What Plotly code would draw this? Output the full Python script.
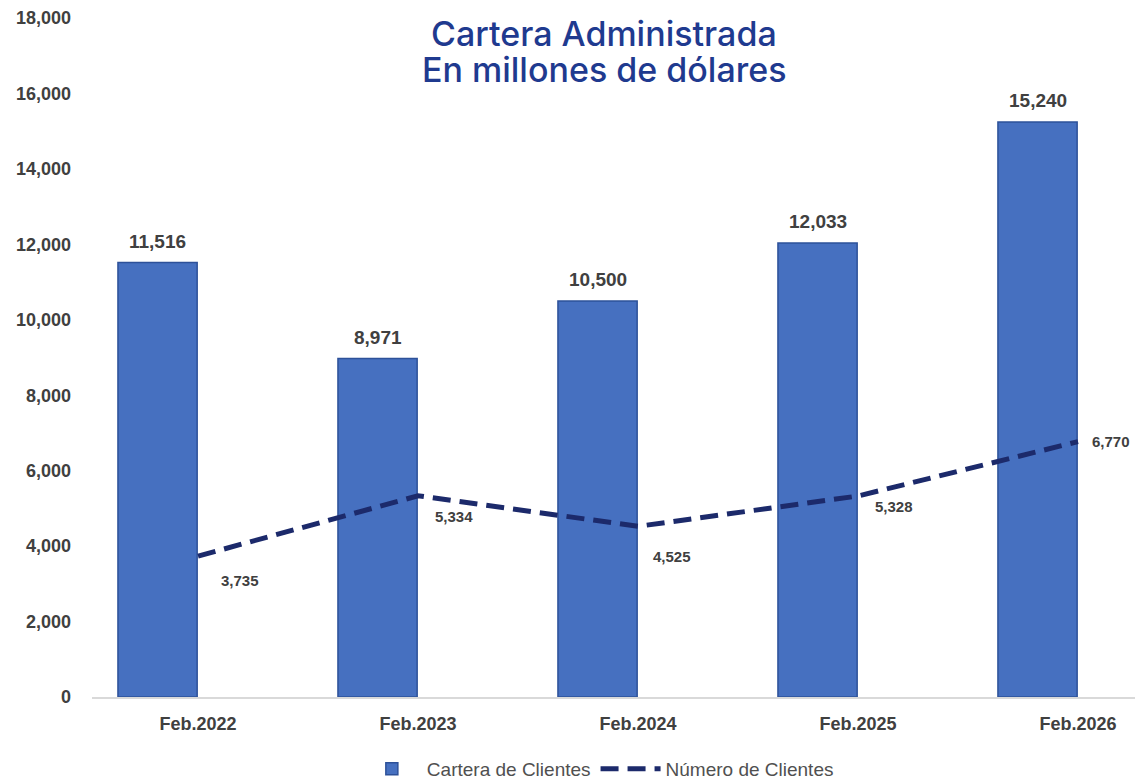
import plotly.graph_objects as go

# data
periods = ["Feb.2022", "Feb.2023", "Feb.2024", "Feb.2025", "Feb.2026"]
cartera = [11516, 8971, 10500, 12033, 15240]
clientes = [3735, 5334, 4525, 5328, 6770]
yticks = list(range(0, 18001, 2000))
title_lines = ["Cartera Administrada", "En millones de dólares"]

label_col = "#404040"
navy = "#1c2a6b"
bar_off = -0.364
bar_w = 0.36
plot_h = 780 - 18 - 83

fig = go.Figure()

fig.add_trace(go.Bar(
    x=periods, y=cartera, name="Cartera de Clientes",
    offset=bar_off, width=bar_w,
    marker=dict(color="#4670C0", line=dict(color="#2D5199", width=1.5)),
    hoverinfo="skip",
))

fig.add_trace(go.Scatter(
    x=periods, y=clientes, name="Número de Clientes",
    mode="lines", line=dict(color=navy, width=5, dash="18px,9px"),
    hoverinfo="skip",
))

annotations = []
# title, one annotation per line
for i, t in enumerate(title_lines):
    annotations.append(dict(
        xref="paper", yref="paper", x=0.491, y=(697 - 33 - 37 * i) / plot_h,
        text=t, showarrow=False, xanchor="center", yanchor="middle",
        font=dict(family="Inter", size=34, color="#1f3a8f", weight=500),
    ))

# bar value labels (above each bar, centred on the shifted bar)
for p, v in zip(periods, cartera):
    annotations.append(dict(
        x=p, y=v, text=f"{v:,}", showarrow=False,
        xshift=(bar_off + bar_w / 2) * 220, yshift=9, yanchor="bottom",
        font=dict(family="Liberation Sans", size=19, color=label_col, weight="bold"),
    ))

# line value labels (below-right of each point)
line_shift = [(42, -24), (36, -21), (34, -30), (36, -10), (33, 0)]
for p, v, (dx, dy) in zip(periods, clientes, line_shift):
    annotations.append(dict(
        x=p, y=v, text=f"{v:,}", showarrow=False,
        xshift=dx, yshift=dy,
        font=dict(family="Liberation Sans", size=15, color=label_col, weight="bold"),
    ))

fig.update_layout(
    width=1142, height=780,
    paper_bgcolor="white", plot_bgcolor="white",
    margin=dict(l=92, r=7, t=18, b=83),
    showlegend=True,
    legend=dict(
        orientation="h", x=0.485, xanchor="center",
        yref="container", y=1 - 769 / 780, yanchor="middle",
        font=dict(family="Liberation Sans", size=19, color="#505050"),
        traceorder="normal", itemwidth=60,
    ),
    annotations=annotations,
)

fig.update_xaxes(
    type="category", range=[-0.482, 4.259], automargin=False,
    showline=True, linecolor="#d9d9d9", linewidth=1.5,
    showgrid=False, ticks="",
    tickfont=dict(family="Liberation Sans", size=18, color=label_col, weight="bold"),
    ticklabelstandoff=10,
)
fig.update_yaxes(
    range=[0, 18000], tickvals=yticks, tickformat=",d", automargin=False,
    showgrid=False, zeroline=False, showline=False,
    tickfont=dict(family="Liberation Sans", size=18, color=label_col, weight="bold"),
    ticklabelstandoff=20,
)

# pin the graph to the top-left corner of the window so page margins don't shift it
page_fix = (
    "document.body.style.margin='0';"
    "var g=document.getElementsByClassName('plotly-graph-div')[0];"
    "g.style.position='fixed';g.style.left='0';g.style.top='0';"
)
fig.write_html("out.html", post_script=page_fix, config={"displayModeBar": False})
